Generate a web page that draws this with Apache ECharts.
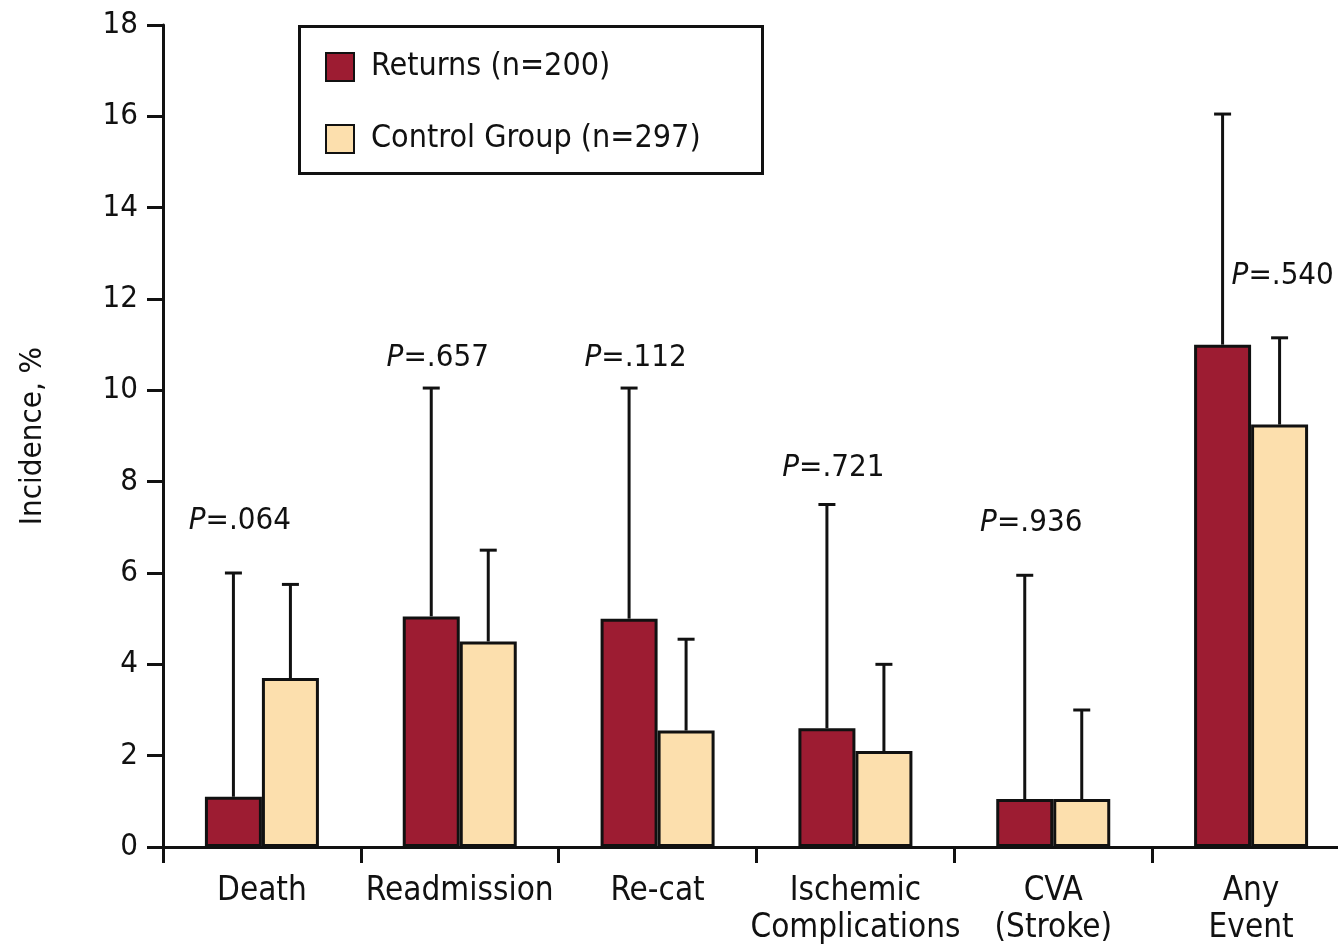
<!DOCTYPE html>
<html>
<head>
<meta charset="utf-8">
<script src="https://cdn.jsdelivr.net/npm/echarts@6/dist/echarts.min.js"></script>
<style>
html,body{margin:0;padding:0;background:#fff;}
#chart{width:1338px;height:946px;}
</style>
</head>
<body>
<div id="chart"></div>
<script>
const categories = ['Death', 'Readmission', 'Re-cat', 'Ischemic\nComplications', 'CVA\n(Stroke)', 'Any\nEvent'];
const seriesNames = ['Returns (n=200)', 'Control Group (n=297)'];
const returnsValues = [1.1, 5.05, 5.0, 2.6, 1.05, 11.0];
const returnsUpper = [6.0, 10.05, 10.05, 7.5, 5.95, 16.05];
const controlValues = [3.7, 4.5, 2.55, 2.1, 1.05, 9.25];
const controlUpper = [5.75, 6.5, 4.55, 4.0, 3.0, 11.15];
const pValues = ['.064', '.657', '.112', '.721', '.936', '.540'];
const pLabelY = [7.15, 10.7, 10.7, 8.3, 7.1, 12.5];
const yTicks = [0, 2, 4, 6, 8, 10, 12, 14, 16, 18];

const FONT = '"DejaVu Sans Condensed", "Liberation Sans Narrow", sans-serif';
const RED = '#9D1C32';
const PEACH = '#FCDFAD';
const INK = '#111111';
const BAR_W = 57;

const chart = echarts.init(document.getElementById('chart'));

function errorSeries(values, upper, side) {
  return {
    type: 'custom',
    z: 1,
    silent: true,
    data: values.map((v, i) => [i, v, upper[i]]),
    renderItem: function (params, api) {
      const base = api.coord([api.value(0), api.value(1)]);
      const top = api.coord([api.value(0), api.value(2)]);
      const x = base[0] + side * BAR_W / 2;
      const st = { stroke: INK, lineWidth: 3 };
      return {
        type: 'group',
        children: [
          { type: 'line', shape: { x1: x, y1: base[1], x2: x, y2: top[1] }, style: st },
          { type: 'line', shape: { x1: x - 8.5, y1: top[1], x2: x + 8.5, y2: top[1] }, style: st }
        ]
      };
    }
  };
}

const pSeries = {
  type: 'custom',
  z: 5,
  silent: true,
  data: pValues.map((p, i) => [i, pLabelY[i]]),
  renderItem: function (params, api) {
    const i = params.dataIndex;
    const c = api.coord([api.value(0), api.value(1)]);
    const last = i === pValues.length - 1;
    return {
      type: 'text',
      x: last ? c[0] - BAR_W / 2 + 9 : c[0] - 22,
      y: c[1],
      style: {
        text: '{i|P}{n|=' + pValues[i] + '}',
        align: last ? 'left' : 'center',
        verticalAlign: 'middle',
        rich: {
          i: { fontFamily: FONT, fontSize: 31, fontStyle: 'italic', fill: INK },
          n: { fontFamily: FONT, fontSize: 31, fill: INK }
        }
      }
    };
  }
};

const option = {
  animation: false,
  backgroundColor: '#ffffff',
  textStyle: { fontFamily: FONT, color: INK },
  grid: { left: 163, right: -12, top: 25, bottom: 99, containLabel: false, outerBoundsMode: 'none' },
  graphic: [{
    type: 'rect',
    z: 0,
    shape: { x: 299.5, y: 26.5, width: 463, height: 147 },
    style: { fill: '#fff', stroke: INK, lineWidth: 3 }
  }],
  legend: {
    orient: 'vertical',
    left: 325,
    top: 51,
    padding: 0,
    itemWidth: 28,
    itemHeight: 28,
    itemGap: 40,
    icon: 'rect',
    selectedMode: false,
    z: 10,
    textStyle: { fontFamily: FONT, fontSize: 32, color: INK, lineHeight: 28, padding: [0, 0, 0, 12] },
    data: seriesNames
  },
  xAxis: {
    type: 'category',
    data: categories,
    axisLine: { lineStyle: { color: INK, width: 3 } },
    axisTick: { show: true, length: 16, lineStyle: { color: INK, width: 3 } },
    axisLabel: { fontFamily: FONT, fontSize: 33, color: INK, margin: 26, lineHeight: 37, interval: 0 }
  },
  yAxis: {
    type: 'value',
    min: 0,
    max: 18,
    interval: 2,
    name: 'Incidence, %',
    nameLocation: 'middle',
    nameGap: 115,
    nameTextStyle: { fontFamily: FONT, fontSize: 31, color: INK },
    axisLine: { show: true, lineStyle: { color: INK, width: 3 } },
    axisTick: { show: true, length: 16, lineStyle: { color: INK, width: 3 } },
    splitLine: { show: false },
    axisLabel: {
      fontFamily: FONT, fontSize: 31, color: INK, margin: 25,
      formatter: v => (yTicks.indexOf(v) >= 0 ? String(v) : '')
    }
  },
  series: [
    errorSeries(returnsValues, returnsUpper, -1),
    errorSeries(controlValues, controlUpper, 1),
    {
      name: seriesNames[0],
      type: 'bar',
      z: 3,
      barWidth: BAR_W,
      barGap: '0%',
      data: returnsValues,
      itemStyle: { color: RED, borderColor: INK, borderWidth: 3 }
    },
    {
      name: seriesNames[1],
      type: 'bar',
      z: 3,
      barWidth: BAR_W,
      barGap: '0%',
      data: controlValues,
      itemStyle: { color: PEACH, borderColor: INK, borderWidth: 3 }
    },
    pSeries
  ]
};
chart.setOption(option);
</script>
</body>
</html>
